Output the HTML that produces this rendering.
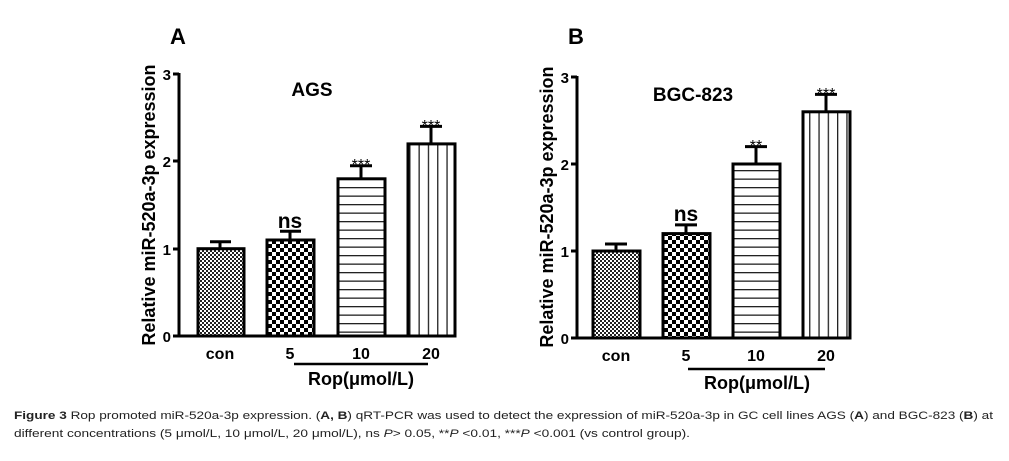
<!DOCTYPE html>
<html><head><meta charset="utf-8"><style>
html,body{margin:0;padding:0;background:#fff;width:1009px;height:461px;overflow:hidden}
svg{display:block;font-family:"Liberation Sans",Arial,sans-serif}
</style></head><body>
<svg width="1009" height="461" viewBox="0 0 1009 461">
<defs>
<pattern id="fine" width="4" height="4" patternUnits="userSpaceOnUse"><rect width="4" height="4" fill="#fff"/><rect width="2" height="2" fill="#222"/><rect x="2" y="2" width="2" height="2" fill="#222"/></pattern>
<pattern id="coarse" width="8" height="8" patternUnits="userSpaceOnUse"><rect width="8" height="8" fill="#fff"/><rect width="4" height="4" fill="#000"/><rect x="4" y="4" width="4" height="4" fill="#000"/></pattern>
<pattern id="hl" width="8" height="8.5" patternUnits="userSpaceOnUse"><rect width="8" height="8.5" fill="#fff"/><rect y="0" width="8" height="1.3" fill="#222"/></pattern>
<pattern id="vl" width="9.3" height="8" patternUnits="userSpaceOnUse"><rect width="9.3" height="8" fill="#fff"/><rect x="0" width="1.3" height="8" fill="#222"/></pattern>
</defs>
<g font-weight="bold">
<!-- Chart A -->
<text x="170" y="44" font-size="22">A</text>
<text x="155" y="205" font-size="18" transform="rotate(-90 155 205)" text-anchor="middle">Relative miR-520a-3p expression</text>
<g stroke="#000" stroke-width="3" fill="none">
<line x1="179" y1="73" x2="179" y2="337.5"/><line x1="177.5" y1="336" x2="456" y2="336"/>
<line x1="173" y1="74" x2="179" y2="74"/><line x1="173" y1="161" x2="179" y2="161"/><line x1="173" y1="249" x2="179" y2="249"/><line x1="173" y1="336" x2="179" y2="336"/>
</g>
<g font-size="15" text-anchor="end"><text x="171" y="80">3</text><text x="171" y="167">2</text><text x="171" y="255">1</text><text x="171" y="342">0</text></g>
<text x="312" y="96" font-size="19" text-anchor="middle">AGS</text>
<g stroke="#000" stroke-width="3">
<line x1="220" y1="248.7" x2="220" y2="241.7"/><line x1="210" y1="241.7" x2="231" y2="241.7"/>
<line x1="290" y1="240" x2="290" y2="231.2"/><line x1="280" y1="231.2" x2="301" y2="231.2"/>
<line x1="361" y1="178.8" x2="361" y2="165.7"/><line x1="350" y1="165.7" x2="372" y2="165.7"/>
<line x1="431" y1="143.9" x2="431" y2="126.4"/><line x1="420" y1="126.4" x2="442" y2="126.4"/>
<rect x="198" y="248.7" width="46" height="87.3" fill="url(#fine)"/>
<rect x="267" y="240" width="47" height="96" fill="url(#coarse)"/>
<rect x="338" y="178.8" width="47" height="157.2" fill="url(#hl)"/>
<rect x="408" y="143.9" width="47" height="192.1" fill="url(#vl)"/>
</g>
<text x="290" y="228" font-size="21" text-anchor="middle">ns</text>
<text x="361" y="170" font-size="16" font-weight="normal" text-anchor="middle">***</text>
<text x="431" y="131" font-size="16" font-weight="normal" text-anchor="middle">***</text>
<g font-size="16" text-anchor="middle"><text x="220" y="359">con</text><text x="290" y="359">5</text><text x="361" y="359">10</text><text x="431" y="359">20</text></g>
<line x1="294" y1="364" x2="428" y2="364" stroke="#000" stroke-width="2.5"/>
<text x="361" y="385" font-size="18" text-anchor="middle">Rop(μmol/L)</text>

<!-- Chart B -->
<text x="568" y="44" font-size="22">B</text>
<text x="553" y="207" font-size="18" transform="rotate(-90 553 207)" text-anchor="middle">Relative miR-520a-3p expression</text>
<g stroke="#000" stroke-width="3" fill="none">
<line x1="577" y1="76" x2="577" y2="339.5"/><line x1="575.5" y1="338" x2="851" y2="338"/>
<line x1="571" y1="77" x2="577" y2="77"/><line x1="571" y1="164" x2="577" y2="164"/><line x1="571" y1="251" x2="577" y2="251"/><line x1="571" y1="338" x2="577" y2="338"/>
</g>
<g font-size="15" text-anchor="end"><text x="569" y="83">3</text><text x="569" y="170">2</text><text x="569" y="257">1</text><text x="569" y="344">0</text></g>
<text x="693" y="101" font-size="19" text-anchor="middle">BGC-823</text>
<g stroke="#000" stroke-width="3">
<line x1="616" y1="251" x2="616" y2="244"/><line x1="605" y1="244" x2="627" y2="244"/>
<line x1="686" y1="233.6" x2="686" y2="224.9"/><line x1="675" y1="224.9" x2="697" y2="224.9"/>
<line x1="756" y1="164" x2="756" y2="146.6"/><line x1="745" y1="146.6" x2="767" y2="146.6"/>
<line x1="826" y1="111.8" x2="826" y2="94.4"/><line x1="815" y1="94.4" x2="837" y2="94.4"/>
<rect x="593" y="251" width="47" height="87" fill="url(#fine)"/>
<rect x="663" y="233.6" width="47" height="104.4" fill="url(#coarse)"/>
<rect x="733" y="164" width="47" height="174" fill="url(#hl)"/>
<rect x="803" y="111.8" width="47" height="226.2" fill="url(#vl)"/>
</g>
<text x="686" y="221" font-size="21" text-anchor="middle">ns</text>
<text x="756" y="151" font-size="16" font-weight="normal" text-anchor="middle">**</text>
<text x="826" y="99" font-size="16" font-weight="normal" text-anchor="middle">***</text>
<g font-size="16" text-anchor="middle"><text x="616" y="361">con</text><text x="686" y="361">5</text><text x="756" y="361">10</text><text x="826" y="361">20</text></g>
<line x1="688" y1="369" x2="825" y2="369" stroke="#000" stroke-width="2.5"/>
<text x="757" y="389" font-size="18" text-anchor="middle">Rop(μmol/L)</text>
</g>

<!-- Caption -->
<g font-size="11" fill="#222">
<text x="14" y="419" textLength="979" lengthAdjust="spacingAndGlyphs"><tspan font-weight="bold">Figure 3</tspan> Rop promoted miR-520a-3p expression. (<tspan font-weight="bold">A, B</tspan>) qRT-PCR was used to detect the expression of miR-520a-3p in GC cell lines AGS (<tspan font-weight="bold">A</tspan>) and BGC-823 (<tspan font-weight="bold">B</tspan>) at</text>
<text x="14" y="437" textLength="676" lengthAdjust="spacingAndGlyphs">different concentrations (5 μmol/L, 10 μmol/L, 20 μmol/L), ns <tspan font-style="italic">P</tspan>&gt; 0.05, **<tspan font-style="italic">P</tspan> &lt;0.01, ***<tspan font-style="italic">P</tspan> &lt;0.001 (vs control group).</text>
</g>
</svg>
</body></html>
